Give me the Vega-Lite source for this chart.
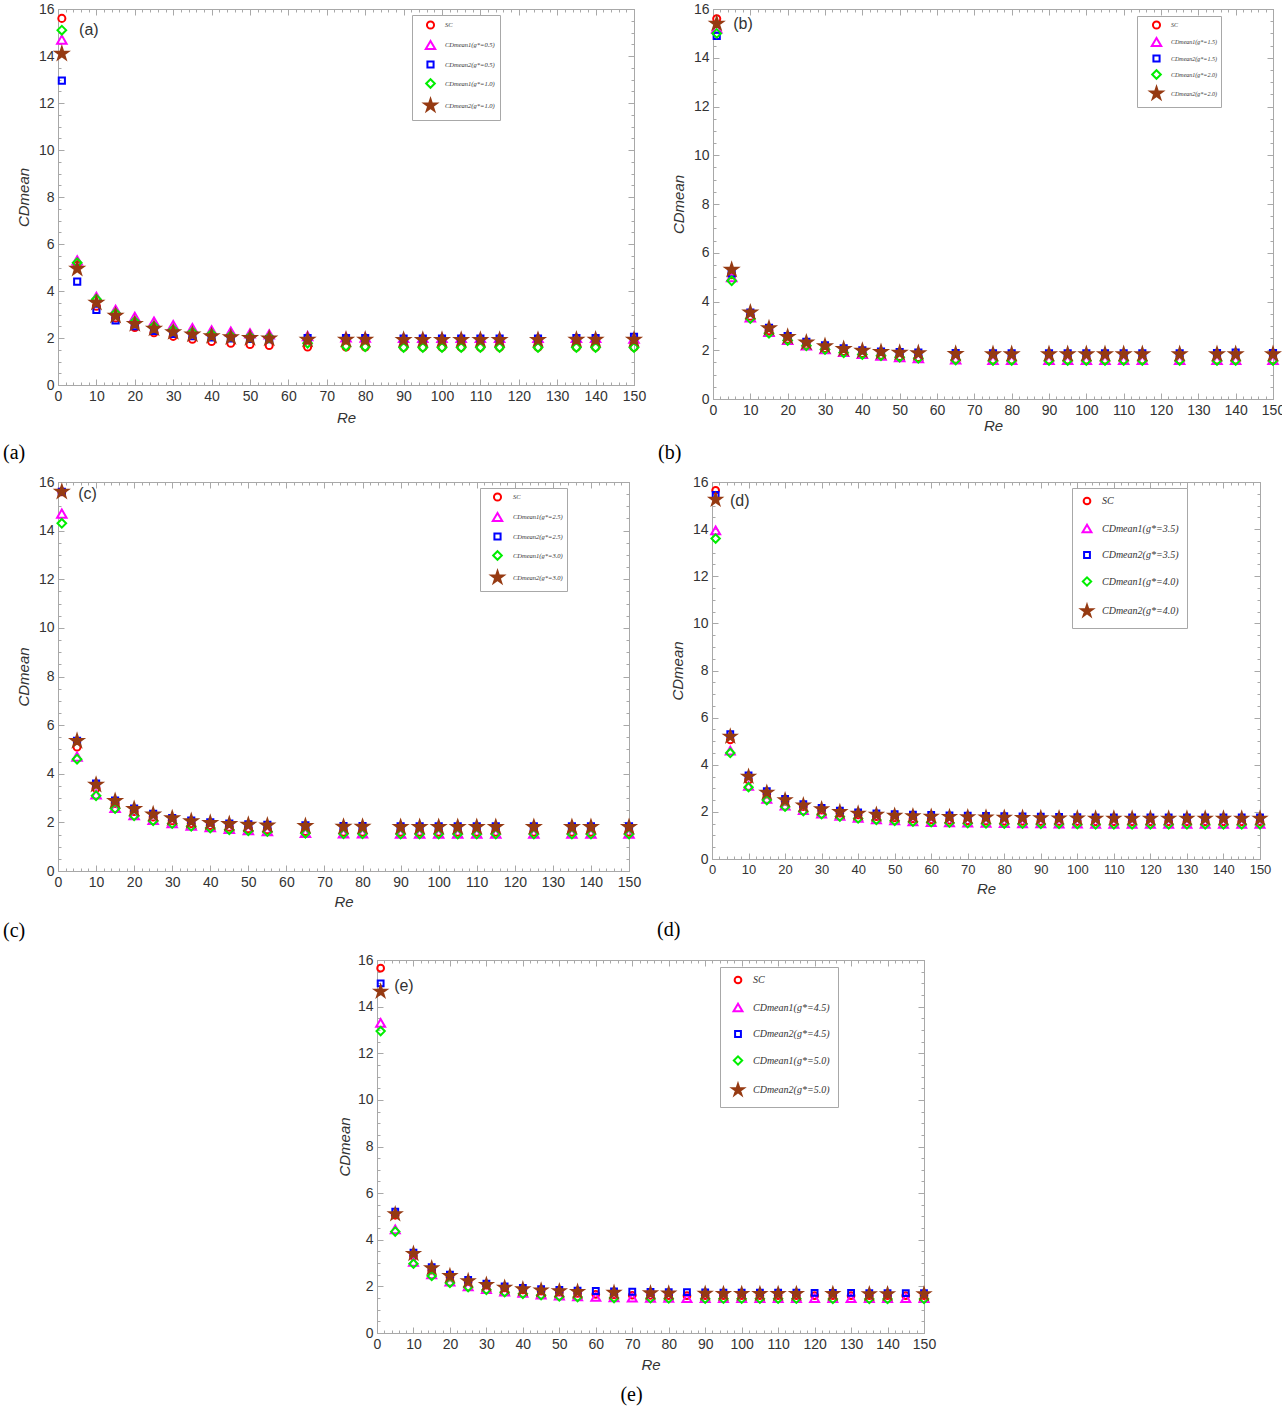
{
"$schema": "https://vega.github.io/schema/vega-lite/v6.json",
"background": "white",
"padding": {"left": 2, "top": 1, "right": 0, "bottom": 0},
"config": {
 "view": {"stroke": "#a8a8a8"},
 "axis": {"grid": false, "domainColor": "#a8a8a8", "tickColor": "#a8a8a8", "tickWidth": 1, "labelFont": "Liberation Sans", "labelFontSize": 14, "labelColor": "#333333", "titleFont": "Liberation Sans", "titleFontSize": 15, "titleFontStyle": "italic", "titleFontWeight": "normal", "titleColor": "#333333", "labelOverlap": false, "labelFlush": false},
 "legend": {"labelFont": "Liberation Serif", "labelFontStyle": "italic", "labelColor": "#333333", "strokeColor": "#a8a8a8", "fillColor": "#ffffff", "symbolStrokeWidth": 2, "orient": "none"},
 "title": {"font": "Liberation Serif", "fontSize": 20, "fontWeight": "normal", "color": "#000000"}
},
"spacing": 10,
"align": "each",
"resolve": {"scale": {"x": "independent", "y": "independent", "stroke": "independent", "fill": "independent", "shape": "independent", "size": "independent"}, "legend": {"stroke": "independent", "fill": "independent", "shape": "independent", "size": "independent"}},
"vconcat": [
{
 "hconcat": [
 {
  "width": 576, "height": 376,
  "title": {"text": "(a)", "orient": "bottom", "anchor": "start", "frame": "group", "dx": -55, "offset": 18},
  "data": {"values": [
   {"Re":1,"s":"SC","C":15.6},{"Re":5,"s":"SC","C":5.1},{"Re":10,"s":"SC","C":3.35},{"Re":15,"s":"SC","C":2.85},{"Re":20,"s":"SC","C":2.45},{"Re":25,"s":"SC","C":2.22},{"Re":30,"s":"SC","C":2.07},{"Re":35,"s":"SC","C":1.95},{"Re":40,"s":"SC","C":1.85},{"Re":45,"s":"SC","C":1.78},{"Re":50,"s":"SC","C":1.72},{"Re":55,"s":"SC","C":1.68},{"Re":65,"s":"SC","C":1.62},{"Re":75,"s":"SC","C":1.62},{"Re":80,"s":"SC","C":1.62},{"Re":90,"s":"SC","C":1.6},{"Re":95,"s":"SC","C":1.6},{"Re":100,"s":"SC","C":1.6},{"Re":105,"s":"SC","C":1.6},{"Re":110,"s":"SC","C":1.6},{"Re":115,"s":"SC","C":1.6},{"Re":125,"s":"SC","C":1.6},{"Re":135,"s":"SC","C":1.6},{"Re":140,"s":"SC","C":1.6},{"Re":150,"s":"SC","C":1.6},
   {"Re":1,"s":"m1","C":14.7},{"Re":5,"s":"m1","C":5.3},{"Re":10,"s":"m1","C":3.75},{"Re":15,"s":"m1","C":3.2},{"Re":20,"s":"m1","C":2.9},{"Re":25,"s":"m1","C":2.7},{"Re":30,"s":"m1","C":2.55},{"Re":35,"s":"m1","C":2.42},{"Re":40,"s":"m1","C":2.32},{"Re":45,"s":"m1","C":2.27},{"Re":50,"s":"m1","C":2.2},{"Re":55,"s":"m1","C":2.15},{"Re":65,"s":"m1","C":2.08},{"Re":75,"s":"m1","C":2.03},{"Re":80,"s":"m1","C":2.02},{"Re":90,"s":"m1","C":2.0},{"Re":95,"s":"m1","C":2.0},{"Re":100,"s":"m1","C":2.0},{"Re":105,"s":"m1","C":2.0},{"Re":110,"s":"m1","C":2.0},{"Re":115,"s":"m1","C":2.0},{"Re":125,"s":"m1","C":2.0},{"Re":135,"s":"m1","C":2.0},{"Re":140,"s":"m1","C":2.0},{"Re":150,"s":"m1","C":1.97},
   {"Re":1,"s":"m2","C":12.95},{"Re":5,"s":"m2","C":4.4},{"Re":10,"s":"m2","C":3.2},{"Re":15,"s":"m2","C":2.75},{"Re":20,"s":"m2","C":2.5},{"Re":25,"s":"m2","C":2.3},{"Re":30,"s":"m2","C":2.17},{"Re":35,"s":"m2","C":2.08},{"Re":40,"s":"m2","C":2.02},{"Re":45,"s":"m2","C":1.98},{"Re":50,"s":"m2","C":1.96},{"Re":55,"s":"m2","C":1.95},{"Re":65,"s":"m2","C":2.0},{"Re":75,"s":"m2","C":2.0},{"Re":80,"s":"m2","C":2.0},{"Re":90,"s":"m2","C":1.98},{"Re":95,"s":"m2","C":1.98},{"Re":100,"s":"m2","C":1.98},{"Re":105,"s":"m2","C":1.98},{"Re":110,"s":"m2","C":1.98},{"Re":115,"s":"m2","C":1.98},{"Re":125,"s":"m2","C":1.98},{"Re":135,"s":"m2","C":2.0},{"Re":140,"s":"m2","C":2.0},{"Re":150,"s":"m2","C":2.05},
   {"Re":1,"s":"n1","C":15.1},{"Re":5,"s":"n1","C":5.2},{"Re":10,"s":"n1","C":3.65},{"Re":15,"s":"n1","C":3.05},{"Re":20,"s":"n1","C":2.7},{"Re":25,"s":"n1","C":2.5},{"Re":30,"s":"n1","C":2.35},{"Re":35,"s":"n1","C":2.25},{"Re":40,"s":"n1","C":2.17},{"Re":45,"s":"n1","C":2.1},{"Re":50,"s":"n1","C":2.05},{"Re":55,"s":"n1","C":2.02},{"Re":65,"s":"n1","C":1.78},{"Re":75,"s":"n1","C":1.65},{"Re":80,"s":"n1","C":1.63},{"Re":90,"s":"n1","C":1.6},{"Re":95,"s":"n1","C":1.6},{"Re":100,"s":"n1","C":1.6},{"Re":105,"s":"n1","C":1.6},{"Re":110,"s":"n1","C":1.6},{"Re":115,"s":"n1","C":1.6},{"Re":125,"s":"n1","C":1.6},{"Re":135,"s":"n1","C":1.6},{"Re":140,"s":"n1","C":1.6},{"Re":150,"s":"n1","C":1.6},
   {"Re":1,"s":"n2","C":14.1},{"Re":5,"s":"n2","C":4.95},{"Re":10,"s":"n2","C":3.5},{"Re":15,"s":"n2","C":2.95},{"Re":20,"s":"n2","C":2.6},{"Re":25,"s":"n2","C":2.4},{"Re":30,"s":"n2","C":2.25},{"Re":35,"s":"n2","C":2.15},{"Re":40,"s":"n2","C":2.08},{"Re":45,"s":"n2","C":2.03},{"Re":50,"s":"n2","C":2.0},{"Re":55,"s":"n2","C":1.98},{"Re":65,"s":"n2","C":1.93},{"Re":75,"s":"n2","C":1.93},{"Re":80,"s":"n2","C":1.93},{"Re":90,"s":"n2","C":1.92},{"Re":95,"s":"n2","C":1.92},{"Re":100,"s":"n2","C":1.92},{"Re":105,"s":"n2","C":1.92},{"Re":110,"s":"n2","C":1.92},{"Re":115,"s":"n2","C":1.92},{"Re":125,"s":"n2","C":1.92},{"Re":135,"s":"n2","C":1.93},{"Re":140,"s":"n2","C":1.93},{"Re":150,"s":"n2","C":1.93}
  ]},
  "layer": [
   {"mark": {"type": "point", "opacity": 0},
    "encoding": {
     "x": {"field": "Re", "type": "quantitative", "scale": {"domain": [0, 150], "nice": false}, "axis": {"orient": "bottom", "tickCount": 75, "labels": false, "domain": false, "tickSize": -3, "title": null}},
     "y": {"field": "C", "type": "quantitative", "scale": {"domain": [0, 16], "nice": false}, "axis": {"orient": "left", "tickCount": 32, "labels": false, "domain": false, "tickSize": -3, "title": null}}}},
   {"mark": {"type": "point", "opacity": 0},
    "encoding": {
     "x": {"field": "Re", "type": "quantitative", "scale": {"domain": [0, 150], "nice": false}, "axis": {"orient": "top", "tickCount": 75, "labels": false, "domain": false, "tickSize": -3, "title": null}},
     "y": {"field": "C", "type": "quantitative", "scale": {"domain": [0, 16], "nice": false}, "axis": {"orient": "right", "tickCount": 32, "labels": false, "domain": false, "tickSize": -3, "title": null}}}},
   {"data": {"values": [{"t": "(a)"}]},
    "mark": {"type": "text", "align": "left", "baseline": "middle", "font": "Liberation Sans", "fontSize": 16, "color": "#333333"},
    "encoding": {
     "x": {"datum": 5.5, "type": "quantitative", "scale": {"domain": [0, 150], "nice": false}, "axis": {"orient": "top", "values": [0,10,20,30,40,50,60,70,80,90,100,110,120,130,140,150], "labels": false, "tickSize": -6, "title": null}},
     "y": {"datum": 15.1, "type": "quantitative", "scale": {"domain": [0, 16], "nice": false}, "axis": {"orient": "right", "values": [0,2,4,6,8,10,12,14,16], "labels": false, "tickSize": -6, "title": null}},
     "text": {"field": "t", "type": "nominal"}}},
   {"mark": {"type": "point", "strokeWidth": 2, "opacity": 1},
    "encoding": {
     "x": {"field": "Re", "type": "quantitative", "scale": {"domain": [0, 150], "nice": false}, "axis": {"orient": "bottom", "values": [0,10,20,30,40,50,60,70,80,90,100,110,120,130,140,150], "tickSize": -6, "labelPadding": 10, "title": "Re", "titlePadding": 7}},
     "y": {"field": "C", "type": "quantitative", "scale": {"domain": [0, 16], "nice": false}, "axis": {"orient": "left", "values": [0,2,4,6,8,10,12,14,16], "tickSize": -6, "labelPadding": 10, "title": "CDmean", "titlePadding": 7}},
     "stroke": {"field": "s", "type": "nominal", "title": null, "scale": {"domain": ["SC","m1","m2","n1","n2"], "range": ["#ff0000","#ff00ff","#0000ff","#00ee00","#963a12"]},
      "legend": {"legendX": 354, "legendY": 6, "labelFontSize": 6.5, "rowPadding": 3, "padding": 5, "symbolOffset": 6, "labelOffset": 7,
       "labelExpr": "datum.label=='SC'?'SC':datum.label=='m1'?'CDmean1(g*=0.5)':datum.label=='m2'?'CDmean2(g*=0.5)':datum.label=='n1'?'CDmean1(g*=1.0)':'CDmean2(g*=1.0)'"}},
     "fill": {"field": "s", "type": "nominal", "title": null, "scale": {"domain": ["SC","m1","m2","n1","n2"], "range": ["transparent","transparent","transparent","transparent","#963a12"]}},
     "shape": {"field": "s", "type": "nominal", "title": null, "scale": {"domain": ["SC","m1","m2","n1","n2"], "range": ["circle","triangle-up","square","diamond","M0,-1L0.2245,-0.309L0.951,-0.309L0.363,0.118L0.588,0.809L0,0.382L-0.588,0.809L-0.363,0.118L-0.951,-0.309L-0.2245,-0.309Z"]}},
     "size": {"field": "s", "type": "nominal", "title": null, "scale": {"type": "ordinal", "domain": ["SC","m1","m2","n1","n2"], "range": [50, 90, 38, 75, 160]}}}}
  ],
  "resolve": {"axis": {"x": "independent", "y": "independent"}}
 },
 {
  "width": 560, "height": 390,
  "title": {"text": "(b)", "orient": "bottom", "anchor": "start", "frame": "group", "dx": -55, "offset": 10},
  "data": {"values": [
   {"Re":1,"s":"SC","C":15.6},{"Re":5,"s":"SC","C":5.1},{"Re":10,"s":"SC","C":3.4},{"Re":15,"s":"SC","C":2.8},{"Re":20,"s":"SC","C":2.45},{"Re":25,"s":"SC","C":2.22},{"Re":30,"s":"SC","C":2.07},{"Re":35,"s":"SC","C":1.95},{"Re":40,"s":"SC","C":1.87},{"Re":45,"s":"SC","C":1.8},{"Re":50,"s":"SC","C":1.74},{"Re":55,"s":"SC","C":1.7},{"Re":65,"s":"SC","C":1.63},{"Re":75,"s":"SC","C":1.6},{"Re":80,"s":"SC","C":1.6},{"Re":90,"s":"SC","C":1.6},{"Re":95,"s":"SC","C":1.6},{"Re":100,"s":"SC","C":1.6},{"Re":105,"s":"SC","C":1.6},{"Re":110,"s":"SC","C":1.6},{"Re":115,"s":"SC","C":1.6},{"Re":125,"s":"SC","C":1.6},{"Re":135,"s":"SC","C":1.6},{"Re":140,"s":"SC","C":1.6},{"Re":150,"s":"SC","C":1.6},
   {"Re":1,"s":"m1","C":15.2},{"Re":5,"s":"m1","C":5.0},{"Re":10,"s":"m1","C":3.35},{"Re":15,"s":"m1","C":2.75},{"Re":20,"s":"m1","C":2.42},{"Re":25,"s":"m1","C":2.2},{"Re":30,"s":"m1","C":2.05},{"Re":35,"s":"m1","C":1.93},{"Re":40,"s":"m1","C":1.85},{"Re":45,"s":"m1","C":1.78},{"Re":50,"s":"m1","C":1.72},{"Re":55,"s":"m1","C":1.68},{"Re":65,"s":"m1","C":1.62},{"Re":75,"s":"m1","C":1.6},{"Re":80,"s":"m1","C":1.6},{"Re":90,"s":"m1","C":1.6},{"Re":95,"s":"m1","C":1.6},{"Re":100,"s":"m1","C":1.6},{"Re":105,"s":"m1","C":1.6},{"Re":110,"s":"m1","C":1.6},{"Re":115,"s":"m1","C":1.6},{"Re":125,"s":"m1","C":1.6},{"Re":135,"s":"m1","C":1.6},{"Re":140,"s":"m1","C":1.6},{"Re":150,"s":"m1","C":1.6},
   {"Re":1,"s":"m2","C":14.9},{"Re":5,"s":"m2","C":5.15},{"Re":10,"s":"m2","C":3.55},{"Re":15,"s":"m2","C":2.92},{"Re":20,"s":"m2","C":2.58},{"Re":25,"s":"m2","C":2.35},{"Re":30,"s":"m2","C":2.2},{"Re":35,"s":"m2","C":2.08},{"Re":40,"s":"m2","C":2.0},{"Re":45,"s":"m2","C":1.95},{"Re":50,"s":"m2","C":1.92},{"Re":55,"s":"m2","C":1.9},{"Re":65,"s":"m2","C":1.88},{"Re":75,"s":"m2","C":1.87},{"Re":80,"s":"m2","C":1.87},{"Re":90,"s":"m2","C":1.87},{"Re":95,"s":"m2","C":1.87},{"Re":100,"s":"m2","C":1.87},{"Re":105,"s":"m2","C":1.87},{"Re":110,"s":"m2","C":1.87},{"Re":115,"s":"m2","C":1.87},{"Re":125,"s":"m2","C":1.87},{"Re":135,"s":"m2","C":1.88},{"Re":140,"s":"m2","C":1.9},{"Re":150,"s":"m2","C":1.88},
   {"Re":1,"s":"n1","C":15.0},{"Re":5,"s":"n1","C":4.85},{"Re":10,"s":"n1","C":3.3},{"Re":15,"s":"n1","C":2.7},{"Re":20,"s":"n1","C":2.4},{"Re":25,"s":"n1","C":2.18},{"Re":30,"s":"n1","C":2.03},{"Re":35,"s":"n1","C":1.9},{"Re":40,"s":"n1","C":1.83},{"Re":45,"s":"n1","C":1.77},{"Re":50,"s":"n1","C":1.71},{"Re":55,"s":"n1","C":1.67},{"Re":65,"s":"n1","C":1.6},{"Re":75,"s":"n1","C":1.58},{"Re":80,"s":"n1","C":1.58},{"Re":90,"s":"n1","C":1.58},{"Re":95,"s":"n1","C":1.58},{"Re":100,"s":"n1","C":1.58},{"Re":105,"s":"n1","C":1.58},{"Re":110,"s":"n1","C":1.58},{"Re":115,"s":"n1","C":1.58},{"Re":125,"s":"n1","C":1.58},{"Re":135,"s":"n1","C":1.58},{"Re":140,"s":"n1","C":1.58},{"Re":150,"s":"n1","C":1.58},
   {"Re":1,"s":"n2","C":15.4},{"Re":5,"s":"n2","C":5.3},{"Re":10,"s":"n2","C":3.55},{"Re":15,"s":"n2","C":2.9},{"Re":20,"s":"n2","C":2.55},{"Re":25,"s":"n2","C":2.32},{"Re":30,"s":"n2","C":2.17},{"Re":35,"s":"n2","C":2.05},{"Re":40,"s":"n2","C":1.98},{"Re":45,"s":"n2","C":1.93},{"Re":50,"s":"n2","C":1.9},{"Re":55,"s":"n2","C":1.88},{"Re":65,"s":"n2","C":1.85},{"Re":75,"s":"n2","C":1.84},{"Re":80,"s":"n2","C":1.84},{"Re":90,"s":"n2","C":1.84},{"Re":95,"s":"n2","C":1.84},{"Re":100,"s":"n2","C":1.84},{"Re":105,"s":"n2","C":1.84},{"Re":110,"s":"n2","C":1.84},{"Re":115,"s":"n2","C":1.84},{"Re":125,"s":"n2","C":1.84},{"Re":135,"s":"n2","C":1.84},{"Re":140,"s":"n2","C":1.84},{"Re":150,"s":"n2","C":1.84}
  ]},
  "layer": [
   {"mark": {"type": "point", "opacity": 0},
    "encoding": {
     "x": {"field": "Re", "type": "quantitative", "scale": {"domain": [0, 150], "nice": false}, "axis": {"orient": "bottom", "tickCount": 75, "labels": false, "domain": false, "tickSize": -3, "title": null}},
     "y": {"field": "C", "type": "quantitative", "scale": {"domain": [0, 16], "nice": false}, "axis": {"orient": "left", "tickCount": 32, "labels": false, "domain": false, "tickSize": -3, "title": null}}}},
   {"mark": {"type": "point", "opacity": 0},
    "encoding": {
     "x": {"field": "Re", "type": "quantitative", "scale": {"domain": [0, 150], "nice": false}, "axis": {"orient": "top", "tickCount": 75, "labels": false, "domain": false, "tickSize": -3, "title": null}},
     "y": {"field": "C", "type": "quantitative", "scale": {"domain": [0, 16], "nice": false}, "axis": {"orient": "right", "tickCount": 32, "labels": false, "domain": false, "tickSize": -3, "title": null}}}},
   {"data": {"values": [{"t": "(b)"}]},
    "mark": {"type": "text", "align": "left", "baseline": "middle", "font": "Liberation Sans", "fontSize": 16, "color": "#333333"},
    "encoding": {
     "x": {"datum": 5.4, "type": "quantitative", "scale": {"domain": [0, 150], "nice": false}, "axis": {"orient": "top", "values": [0,10,20,30,40,50,60,70,80,90,100,110,120,130,140,150], "labels": false, "tickSize": -6, "title": null}},
     "y": {"datum": 15.4, "type": "quantitative", "scale": {"domain": [0, 16], "nice": false}, "axis": {"orient": "right", "values": [0,2,4,6,8,10,12,14,16], "labels": false, "tickSize": -6, "title": null}},
     "text": {"field": "t", "type": "nominal"}}},
   {"mark": {"type": "point", "strokeWidth": 2, "opacity": 1},
    "encoding": {
     "x": {"field": "Re", "type": "quantitative", "scale": {"domain": [0, 150], "nice": false}, "axis": {"orient": "bottom", "values": [0,10,20,30,40,50,60,70,80,90,100,110,120,130,140,150], "tickSize": -6, "labelPadding": 10, "title": "Re", "titlePadding": 1}},
     "y": {"field": "C", "type": "quantitative", "scale": {"domain": [0, 16], "nice": false}, "axis": {"orient": "left", "values": [0,2,4,6,8,10,12,14,16], "tickSize": -6, "labelPadding": 10, "title": "CDmean", "titlePadding": 7}},
     "stroke": {"field": "s", "type": "nominal", "title": null, "scale": {"domain": ["SC","m1","m2","n1","n2"], "range": ["#ff0000","#ff00ff","#0000ff","#00ee00","#963a12"]},
      "legend": {"legendX": 424, "legendY": 7, "labelFontSize": 6, "rowPadding": 0, "padding": 4, "symbolOffset": 8, "labelOffset": 7,
       "labelExpr": "datum.label=='SC'?'SC':datum.label=='m1'?'CDmean1(g*=1.5)':datum.label=='m2'?'CDmean2(g*=1.5)':datum.label=='n1'?'CDmean1(g*=2.0)':'CDmean2(g*=2.0)'"}},
     "fill": {"field": "s", "type": "nominal", "title": null, "scale": {"domain": ["SC","m1","m2","n1","n2"], "range": ["transparent","transparent","transparent","transparent","#963a12"]}},
     "shape": {"field": "s", "type": "nominal", "title": null, "scale": {"domain": ["SC","m1","m2","n1","n2"], "range": ["circle","triangle-up","square","diamond","M0,-1L0.2245,-0.309L0.951,-0.309L0.363,0.118L0.588,0.809L0,0.382L-0.588,0.809L-0.363,0.118L-0.951,-0.309L-0.2245,-0.309Z"]}},
     "size": {"field": "s", "type": "nominal", "title": null, "scale": {"type": "ordinal", "domain": ["SC","m1","m2","n1","n2"], "range": [50, 90, 38, 75, 160]}}}}
  ],
  "resolve": {"axis": {"x": "independent", "y": "independent"}}
 }
 ],
 "spacing": 10, "align": "each",
 "resolve": {"scale": {"x": "independent", "y": "independent", "stroke": "independent", "fill": "independent", "shape": "independent", "size": "independent"}, "legend": {"stroke": "independent", "fill": "independent", "shape": "independent", "size": "independent"}}
},
{
 "hconcat": [
 {
  "width": 571, "height": 389,
  "title": {"text": "(c)", "orient": "bottom", "anchor": "start", "frame": "group", "dx": -55, "offset": 12},
  "data": {"values": [
   {"Re":1,"s":"SC","C":15.6},{"Re":5,"s":"SC","C":5.1},{"Re":10,"s":"SC","C":3.4},{"Re":15,"s":"SC","C":2.78},{"Re":20,"s":"SC","C":2.45},{"Re":25,"s":"SC","C":2.22},{"Re":30,"s":"SC","C":2.07},{"Re":35,"s":"SC","C":1.95},{"Re":40,"s":"SC","C":1.87},{"Re":45,"s":"SC","C":1.8},{"Re":50,"s":"SC","C":1.74},{"Re":55,"s":"SC","C":1.7},{"Re":65,"s":"SC","C":1.63},{"Re":75,"s":"SC","C":1.6},{"Re":80,"s":"SC","C":1.6},{"Re":90,"s":"SC","C":1.6},{"Re":95,"s":"SC","C":1.6},{"Re":100,"s":"SC","C":1.6},{"Re":105,"s":"SC","C":1.6},{"Re":110,"s":"SC","C":1.6},{"Re":115,"s":"SC","C":1.6},{"Re":125,"s":"SC","C":1.6},{"Re":135,"s":"SC","C":1.6},{"Re":140,"s":"SC","C":1.6},{"Re":150,"s":"SC","C":1.6},
   {"Re":1,"s":"m1","C":14.7},{"Re":5,"s":"m1","C":4.7},{"Re":10,"s":"m1","C":3.15},{"Re":15,"s":"m1","C":2.6},{"Re":20,"s":"m1","C":2.3},{"Re":25,"s":"m1","C":2.1},{"Re":30,"s":"m1","C":1.97},{"Re":35,"s":"m1","C":1.87},{"Re":40,"s":"m1","C":1.8},{"Re":45,"s":"m1","C":1.73},{"Re":50,"s":"m1","C":1.68},{"Re":55,"s":"m1","C":1.64},{"Re":65,"s":"m1","C":1.57},{"Re":75,"s":"m1","C":1.55},{"Re":80,"s":"m1","C":1.55},{"Re":90,"s":"m1","C":1.54},{"Re":95,"s":"m1","C":1.54},{"Re":100,"s":"m1","C":1.54},{"Re":105,"s":"m1","C":1.54},{"Re":110,"s":"m1","C":1.54},{"Re":115,"s":"m1","C":1.54},{"Re":125,"s":"m1","C":1.54},{"Re":135,"s":"m1","C":1.54},{"Re":140,"s":"m1","C":1.54},{"Re":150,"s":"m1","C":1.54},
   {"Re":1,"s":"m2","C":15.6},{"Re":5,"s":"m2","C":5.35},{"Re":10,"s":"m2","C":3.6},{"Re":15,"s":"m2","C":2.9},{"Re":20,"s":"m2","C":2.57},{"Re":25,"s":"m2","C":2.35},{"Re":30,"s":"m2","C":2.18},{"Re":35,"s":"m2","C":2.07},{"Re":40,"s":"m2","C":2.0},{"Re":45,"s":"m2","C":1.95},{"Re":50,"s":"m2","C":1.92},{"Re":55,"s":"m2","C":1.9},{"Re":65,"s":"m2","C":1.88},{"Re":75,"s":"m2","C":1.85},{"Re":80,"s":"m2","C":1.85},{"Re":90,"s":"m2","C":1.84},{"Re":95,"s":"m2","C":1.84},{"Re":100,"s":"m2","C":1.84},{"Re":105,"s":"m2","C":1.84},{"Re":110,"s":"m2","C":1.84},{"Re":115,"s":"m2","C":1.84},{"Re":125,"s":"m2","C":1.84},{"Re":135,"s":"m2","C":1.84},{"Re":140,"s":"m2","C":1.84},{"Re":150,"s":"m2","C":1.84},
   {"Re":1,"s":"n1","C":14.3},{"Re":5,"s":"n1","C":4.6},{"Re":10,"s":"n1","C":3.1},{"Re":15,"s":"n1","C":2.57},{"Re":20,"s":"n1","C":2.27},{"Re":25,"s":"n1","C":2.07},{"Re":30,"s":"n1","C":1.95},{"Re":35,"s":"n1","C":1.84},{"Re":40,"s":"n1","C":1.77},{"Re":45,"s":"n1","C":1.7},{"Re":50,"s":"n1","C":1.66},{"Re":55,"s":"n1","C":1.62},{"Re":65,"s":"n1","C":1.55},{"Re":75,"s":"n1","C":1.53},{"Re":80,"s":"n1","C":1.53},{"Re":90,"s":"n1","C":1.52},{"Re":95,"s":"n1","C":1.52},{"Re":100,"s":"n1","C":1.52},{"Re":105,"s":"n1","C":1.52},{"Re":110,"s":"n1","C":1.52},{"Re":115,"s":"n1","C":1.52},{"Re":125,"s":"n1","C":1.52},{"Re":135,"s":"n1","C":1.52},{"Re":140,"s":"n1","C":1.52},{"Re":150,"s":"n1","C":1.52},
   {"Re":1,"s":"n2","C":15.6},{"Re":5,"s":"n2","C":5.35},{"Re":10,"s":"n2","C":3.55},{"Re":15,"s":"n2","C":2.88},{"Re":20,"s":"n2","C":2.55},{"Re":25,"s":"n2","C":2.33},{"Re":30,"s":"n2","C":2.17},{"Re":35,"s":"n2","C":2.05},{"Re":40,"s":"n2","C":1.98},{"Re":45,"s":"n2","C":1.93},{"Re":50,"s":"n2","C":1.9},{"Re":55,"s":"n2","C":1.87},{"Re":65,"s":"n2","C":1.85},{"Re":75,"s":"n2","C":1.82},{"Re":80,"s":"n2","C":1.82},{"Re":90,"s":"n2","C":1.81},{"Re":95,"s":"n2","C":1.81},{"Re":100,"s":"n2","C":1.81},{"Re":105,"s":"n2","C":1.81},{"Re":110,"s":"n2","C":1.81},{"Re":115,"s":"n2","C":1.81},{"Re":125,"s":"n2","C":1.81},{"Re":135,"s":"n2","C":1.81},{"Re":140,"s":"n2","C":1.81},{"Re":150,"s":"n2","C":1.81}
  ]},
  "layer": [
   {"mark": {"type": "point", "opacity": 0},
    "encoding": {
     "x": {"field": "Re", "type": "quantitative", "scale": {"domain": [0, 150], "nice": false}, "axis": {"orient": "bottom", "tickCount": 75, "labels": false, "domain": false, "tickSize": -3, "title": null}},
     "y": {"field": "C", "type": "quantitative", "scale": {"domain": [0, 16], "nice": false}, "axis": {"orient": "left", "tickCount": 32, "labels": false, "domain": false, "tickSize": -3, "title": null}}}},
   {"mark": {"type": "point", "opacity": 0},
    "encoding": {
     "x": {"field": "Re", "type": "quantitative", "scale": {"domain": [0, 150], "nice": false}, "axis": {"orient": "top", "tickCount": 75, "labels": false, "domain": false, "tickSize": -3, "title": null}},
     "y": {"field": "C", "type": "quantitative", "scale": {"domain": [0, 16], "nice": false}, "axis": {"orient": "right", "tickCount": 32, "labels": false, "domain": false, "tickSize": -3, "title": null}}}},
   {"data": {"values": [{"t": "(c)"}]},
    "mark": {"type": "text", "align": "left", "baseline": "middle", "font": "Liberation Sans", "fontSize": 16, "color": "#333333"},
    "encoding": {
     "x": {"datum": 5.3, "type": "quantitative", "scale": {"domain": [0, 150], "nice": false}, "axis": {"orient": "top", "values": [0,10,20,30,40,50,60,70,80,90,100,110,120,130,140,150], "labels": false, "tickSize": -6, "title": null}},
     "y": {"datum": 15.5, "type": "quantitative", "scale": {"domain": [0, 16], "nice": false}, "axis": {"orient": "right", "values": [0,2,4,6,8,10,12,14,16], "labels": false, "tickSize": -6, "title": null}},
     "text": {"field": "t", "type": "nominal"}}},
   {"mark": {"type": "point", "strokeWidth": 2, "opacity": 1},
    "encoding": {
     "x": {"field": "Re", "type": "quantitative", "scale": {"domain": [0, 150], "nice": false}, "axis": {"orient": "bottom", "values": [0,10,20,30,40,50,60,70,80,90,100,110,120,130,140,150], "tickSize": -6, "labelPadding": 10, "title": "Re", "titlePadding": 5}},
     "y": {"field": "C", "type": "quantitative", "scale": {"domain": [0, 16], "nice": false}, "axis": {"orient": "left", "values": [0,2,4,6,8,10,12,14,16], "tickSize": -6, "labelPadding": 10, "title": "CDmean", "titlePadding": 7}},
     "stroke": {"field": "s", "type": "nominal", "title": null, "scale": {"domain": ["SC","m1","m2","n1","n2"], "range": ["#ff0000","#ff00ff","#0000ff","#00ee00","#963a12"]},
      "legend": {"legendX": 422, "legendY": 6, "labelFontSize": 6.5, "rowPadding": 3, "padding": 4, "symbolOffset": 6, "labelOffset": 8,
       "labelExpr": "datum.label=='SC'?'SC':datum.label=='m1'?'CDmean1(g*=2.5)':datum.label=='m2'?'CDmean2(g*=2.5)':datum.label=='n1'?'CDmean1(g*=3.0)':'CDmean2(g*=3.0)'"}},
     "fill": {"field": "s", "type": "nominal", "title": null, "scale": {"domain": ["SC","m1","m2","n1","n2"], "range": ["transparent","transparent","transparent","transparent","#963a12"]}},
     "shape": {"field": "s", "type": "nominal", "title": null, "scale": {"domain": ["SC","m1","m2","n1","n2"], "range": ["circle","triangle-up","square","diamond","M0,-1L0.2245,-0.309L0.951,-0.309L0.363,0.118L0.588,0.809L0,0.382L-0.588,0.809L-0.363,0.118L-0.951,-0.309L-0.2245,-0.309Z"]}},
     "size": {"field": "s", "type": "nominal", "title": null, "scale": {"type": "ordinal", "domain": ["SC","m1","m2","n1","n2"], "range": [50, 90, 38, 75, 160]}}}}
  ],
  "resolve": {"axis": {"x": "independent", "y": "independent"}}
 },
 {
  "width": 548, "height": 377,
  "title": {"text": "(d)", "orient": "bottom", "anchor": "start", "frame": "group", "dx": -55, "offset": 24},
  "data": {"values": [
   {"Re":1,"s":"SC","C":15.65},{"Re":5,"s":"SC","C":5.05},{"Re":10,"s":"SC","C":3.35},{"Re":15,"s":"SC","C":2.75},{"Re":20,"s":"SC","C":2.45},{"Re":25,"s":"SC","C":2.22},{"Re":30,"s":"SC","C":2.07},{"Re":35,"s":"SC","C":1.95},{"Re":40,"s":"SC","C":1.87},{"Re":45,"s":"SC","C":1.8},{"Re":50,"s":"SC","C":1.74},{"Re":55,"s":"SC","C":1.7},{"Re":60,"s":"SC","C":1.66},{"Re":65,"s":"SC","C":1.64},{"Re":70,"s":"SC","C":1.62},{"Re":75,"s":"SC","C":1.61},{"Re":80,"s":"SC","C":1.6},{"Re":85,"s":"SC","C":1.6},{"Re":90,"s":"SC","C":1.59},{"Re":95,"s":"SC","C":1.59},{"Re":100,"s":"SC","C":1.59},{"Re":105,"s":"SC","C":1.58},{"Re":110,"s":"SC","C":1.58},{"Re":115,"s":"SC","C":1.58},{"Re":120,"s":"SC","C":1.58},{"Re":125,"s":"SC","C":1.58},{"Re":130,"s":"SC","C":1.58},{"Re":135,"s":"SC","C":1.58},{"Re":140,"s":"SC","C":1.58},{"Re":145,"s":"SC","C":1.58},{"Re":150,"s":"SC","C":1.58},
   {"Re":1,"s":"m1","C":13.95},{"Re":5,"s":"m1","C":4.6},{"Re":10,"s":"m1","C":3.1},{"Re":15,"s":"m1","C":2.55},{"Re":20,"s":"m1","C":2.27},{"Re":25,"s":"m1","C":2.07},{"Re":30,"s":"m1","C":1.93},{"Re":35,"s":"m1","C":1.83},{"Re":40,"s":"m1","C":1.75},{"Re":45,"s":"m1","C":1.68},{"Re":50,"s":"m1","C":1.64},{"Re":55,"s":"m1","C":1.6},{"Re":60,"s":"m1","C":1.57},{"Re":65,"s":"m1","C":1.55},{"Re":70,"s":"m1","C":1.54},{"Re":75,"s":"m1","C":1.53},{"Re":80,"s":"m1","C":1.52},{"Re":85,"s":"m1","C":1.51},{"Re":90,"s":"m1","C":1.51},{"Re":95,"s":"m1","C":1.5},{"Re":100,"s":"m1","C":1.5},{"Re":105,"s":"m1","C":1.49},{"Re":110,"s":"m1","C":1.49},{"Re":115,"s":"m1","C":1.49},{"Re":120,"s":"m1","C":1.49},{"Re":125,"s":"m1","C":1.49},{"Re":130,"s":"m1","C":1.49},{"Re":135,"s":"m1","C":1.49},{"Re":140,"s":"m1","C":1.49},{"Re":145,"s":"m1","C":1.49},{"Re":150,"s":"m1","C":1.49},
   {"Re":1,"s":"m2","C":15.45},{"Re":5,"s":"m2","C":5.3},{"Re":10,"s":"m2","C":3.55},{"Re":15,"s":"m2","C":2.88},{"Re":20,"s":"m2","C":2.55},{"Re":25,"s":"m2","C":2.33},{"Re":30,"s":"m2","C":2.17},{"Re":35,"s":"m2","C":2.05},{"Re":40,"s":"m2","C":1.98},{"Re":45,"s":"m2","C":1.93},{"Re":50,"s":"m2","C":1.9},{"Re":55,"s":"m2","C":1.88},{"Re":60,"s":"m2","C":1.87},{"Re":65,"s":"m2","C":1.85},{"Re":70,"s":"m2","C":1.84},{"Re":75,"s":"m2","C":1.83},{"Re":80,"s":"m2","C":1.82},{"Re":85,"s":"m2","C":1.81},{"Re":90,"s":"m2","C":1.8},{"Re":95,"s":"m2","C":1.79},{"Re":100,"s":"m2","C":1.78},{"Re":105,"s":"m2","C":1.77},{"Re":110,"s":"m2","C":1.77},{"Re":115,"s":"m2","C":1.77},{"Re":120,"s":"m2","C":1.77},{"Re":125,"s":"m2","C":1.77},{"Re":130,"s":"m2","C":1.77},{"Re":135,"s":"m2","C":1.77},{"Re":140,"s":"m2","C":1.77},{"Re":145,"s":"m2","C":1.77},{"Re":150,"s":"m2","C":1.77},
   {"Re":1,"s":"n1","C":13.6},{"Re":5,"s":"n1","C":4.5},{"Re":10,"s":"n1","C":3.05},{"Re":15,"s":"n1","C":2.5},{"Re":20,"s":"n1","C":2.22},{"Re":25,"s":"n1","C":2.03},{"Re":30,"s":"n1","C":1.9},{"Re":35,"s":"n1","C":1.8},{"Re":40,"s":"n1","C":1.72},{"Re":45,"s":"n1","C":1.66},{"Re":50,"s":"n1","C":1.62},{"Re":55,"s":"n1","C":1.58},{"Re":60,"s":"n1","C":1.56},{"Re":65,"s":"n1","C":1.54},{"Re":70,"s":"n1","C":1.52},{"Re":75,"s":"n1","C":1.51},{"Re":80,"s":"n1","C":1.5},{"Re":85,"s":"n1","C":1.5},{"Re":90,"s":"n1","C":1.49},{"Re":95,"s":"n1","C":1.49},{"Re":100,"s":"n1","C":1.48},{"Re":105,"s":"n1","C":1.47},{"Re":110,"s":"n1","C":1.47},{"Re":115,"s":"n1","C":1.47},{"Re":120,"s":"n1","C":1.47},{"Re":125,"s":"n1","C":1.47},{"Re":130,"s":"n1","C":1.47},{"Re":135,"s":"n1","C":1.47},{"Re":140,"s":"n1","C":1.47},{"Re":145,"s":"n1","C":1.47},{"Re":150,"s":"n1","C":1.47},
   {"Re":1,"s":"n2","C":15.25},{"Re":5,"s":"n2","C":5.2},{"Re":10,"s":"n2","C":3.5},{"Re":15,"s":"n2","C":2.82},{"Re":20,"s":"n2","C":2.5},{"Re":25,"s":"n2","C":2.28},{"Re":30,"s":"n2","C":2.12},{"Re":35,"s":"n2","C":2.0},{"Re":40,"s":"n2","C":1.93},{"Re":45,"s":"n2","C":1.88},{"Re":50,"s":"n2","C":1.84},{"Re":55,"s":"n2","C":1.82},{"Re":60,"s":"n2","C":1.8},{"Re":65,"s":"n2","C":1.79},{"Re":70,"s":"n2","C":1.78},{"Re":75,"s":"n2","C":1.77},{"Re":80,"s":"n2","C":1.76},{"Re":85,"s":"n2","C":1.75},{"Re":90,"s":"n2","C":1.74},{"Re":95,"s":"n2","C":1.73},{"Re":100,"s":"n2","C":1.73},{"Re":105,"s":"n2","C":1.72},{"Re":110,"s":"n2","C":1.72},{"Re":115,"s":"n2","C":1.72},{"Re":120,"s":"n2","C":1.72},{"Re":125,"s":"n2","C":1.72},{"Re":130,"s":"n2","C":1.72},{"Re":135,"s":"n2","C":1.72},{"Re":140,"s":"n2","C":1.72},{"Re":145,"s":"n2","C":1.72},{"Re":150,"s":"n2","C":1.72}
  ]},
  "layer": [
   {"mark": {"type": "point", "opacity": 0},
    "encoding": {
     "x": {"field": "Re", "type": "quantitative", "scale": {"domain": [0, 150], "nice": false}, "axis": {"orient": "bottom", "tickCount": 75, "labels": false, "domain": false, "tickSize": -3, "title": null}},
     "y": {"field": "C", "type": "quantitative", "scale": {"domain": [0, 16], "nice": false}, "axis": {"orient": "left", "tickCount": 32, "labels": false, "domain": false, "tickSize": -3, "title": null}}}},
   {"mark": {"type": "point", "opacity": 0},
    "encoding": {
     "x": {"field": "Re", "type": "quantitative", "scale": {"domain": [0, 150], "nice": false}, "axis": {"orient": "top", "tickCount": 75, "labels": false, "domain": false, "tickSize": -3, "title": null}},
     "y": {"field": "C", "type": "quantitative", "scale": {"domain": [0, 16], "nice": false}, "axis": {"orient": "right", "tickCount": 32, "labels": false, "domain": false, "tickSize": -3, "title": null}}}},
   {"data": {"values": [{"t": "(d)"}]},
    "mark": {"type": "text", "align": "left", "baseline": "middle", "font": "Liberation Sans", "fontSize": 16, "color": "#333333"},
    "encoding": {
     "x": {"datum": 4.9, "type": "quantitative", "scale": {"domain": [0, 150], "nice": false}, "axis": {"orient": "top", "values": [0,10,20,30,40,50,60,70,80,90,100,110,120,130,140,150], "labels": false, "tickSize": -6, "title": null}},
     "y": {"datum": 15.2, "type": "quantitative", "scale": {"domain": [0, 16], "nice": false}, "axis": {"orient": "right", "values": [0,2,4,6,8,10,12,14,16], "labels": false, "tickSize": -6, "title": null}},
     "text": {"field": "t", "type": "nominal"}}},
   {"mark": {"type": "point", "strokeWidth": 2, "opacity": 1},
    "encoding": {
     "x": {"field": "Re", "type": "quantitative", "scale": {"domain": [0, 150], "nice": false}, "axis": {"orient": "bottom", "values": [0,10,20,30,40,50,60,70,80,90,100,110,120,130,140,150], "tickSize": -6, "labelPadding": 10, "labelFontSize": 13, "title": "Re", "titlePadding": 5}},
     "y": {"field": "C", "type": "quantitative", "scale": {"domain": [0, 16], "nice": false}, "axis": {"orient": "left", "values": [0,2,4,6,8,10,12,14,16], "tickSize": -6, "labelPadding": 10, "title": "CDmean", "titlePadding": 7}},
     "stroke": {"field": "s", "type": "nominal", "title": null, "scale": {"domain": ["SC","m1","m2","n1","n2"], "range": ["#ff0000","#ff00ff","#0000ff","#00ee00","#963a12"]},
      "legend": {"legendX": 360, "legendY": 6, "labelFontSize": 10, "rowPadding": 11, "padding": 8, "symbolOffset": 0, "labelOffset": 8,
       "labelExpr": "datum.label=='SC'?'SC':datum.label=='m1'?'CDmean1(g*=3.5)':datum.label=='m2'?'CDmean2(g*=3.5)':datum.label=='n1'?'CDmean1(g*=4.0)':'CDmean2(g*=4.0)'"}},
     "fill": {"field": "s", "type": "nominal", "title": null, "scale": {"domain": ["SC","m1","m2","n1","n2"], "range": ["transparent","transparent","transparent","transparent","#963a12"]}},
     "shape": {"field": "s", "type": "nominal", "title": null, "scale": {"domain": ["SC","m1","m2","n1","n2"], "range": ["circle","triangle-up","square","diamond","M0,-1L0.2245,-0.309L0.951,-0.309L0.363,0.118L0.588,0.809L0,0.382L-0.588,0.809L-0.363,0.118L-0.951,-0.309L-0.2245,-0.309Z"]}},
     "size": {"field": "s", "type": "nominal", "title": null, "scale": {"type": "ordinal", "domain": ["SC","m1","m2","n1","n2"], "range": [45, 80, 34, 70, 140]}}}}
  ],
  "resolve": {"axis": {"x": "independent", "y": "independent"}}
 }
 ],
 "spacing": 14, "align": "each",
 "resolve": {"scale": {"x": "independent", "y": "independent", "stroke": "independent", "fill": "independent", "shape": "independent", "size": "independent"}, "legend": {"stroke": "independent", "fill": "independent", "shape": "independent", "size": "independent"}}
},
{
 "hconcat": [
 {
  "width": 268, "height": 10,
  "view": {"stroke": null},
  "data": {"values": [{}]},
  "mark": {"type": "point", "opacity": 0},
  "encoding": {}
 },
 {
  "width": 547, "height": 373,
  "title": {"text": "(e)", "orient": "bottom", "anchor": "middle", "frame": "group", "dx": -19, "offset": 13},
  "data": {"values": [
   {"Re":1,"s":"SC","C":15.65},{"Re":5,"s":"SC","C":5.05},{"Re":10,"s":"SC","C":3.3},{"Re":15,"s":"SC","C":2.7},{"Re":20,"s":"SC","C":2.4},{"Re":25,"s":"SC","C":2.2},{"Re":30,"s":"SC","C":2.05},{"Re":35,"s":"SC","C":1.93},{"Re":40,"s":"SC","C":1.85},{"Re":45,"s":"SC","C":1.8},{"Re":50,"s":"SC","C":1.75},{"Re":55,"s":"SC","C":1.7},{"Re":60,"s":"SC","C":1.66},{"Re":65,"s":"SC","C":1.63},{"Re":70,"s":"SC","C":1.62},{"Re":75,"s":"SC","C":1.61},{"Re":80,"s":"SC","C":1.6},{"Re":85,"s":"SC","C":1.6},{"Re":90,"s":"SC","C":1.6},{"Re":95,"s":"SC","C":1.6},{"Re":100,"s":"SC","C":1.6},{"Re":105,"s":"SC","C":1.6},{"Re":110,"s":"SC","C":1.6},{"Re":115,"s":"SC","C":1.6},{"Re":120,"s":"SC","C":1.6},{"Re":125,"s":"SC","C":1.6},{"Re":130,"s":"SC","C":1.6},{"Re":135,"s":"SC","C":1.6},{"Re":140,"s":"SC","C":1.6},{"Re":145,"s":"SC","C":1.6},{"Re":150,"s":"SC","C":1.6},
   {"Re":1,"s":"m1","C":13.3},{"Re":5,"s":"m1","C":4.45},{"Re":10,"s":"m1","C":3.05},{"Re":15,"s":"m1","C":2.52},{"Re":20,"s":"m1","C":2.2},{"Re":25,"s":"m1","C":2.0},{"Re":30,"s":"m1","C":1.88},{"Re":35,"s":"m1","C":1.78},{"Re":40,"s":"m1","C":1.72},{"Re":45,"s":"m1","C":1.65},{"Re":50,"s":"m1","C":1.6},{"Re":55,"s":"m1","C":1.57},{"Re":60,"s":"m1","C":1.55},{"Re":65,"s":"m1","C":1.53},{"Re":70,"s":"m1","C":1.52},{"Re":75,"s":"m1","C":1.51},{"Re":80,"s":"m1","C":1.51},{"Re":85,"s":"m1","C":1.5},{"Re":90,"s":"m1","C":1.5},{"Re":95,"s":"m1","C":1.5},{"Re":100,"s":"m1","C":1.5},{"Re":105,"s":"m1","C":1.5},{"Re":110,"s":"m1","C":1.5},{"Re":115,"s":"m1","C":1.5},{"Re":120,"s":"m1","C":1.5},{"Re":125,"s":"m1","C":1.5},{"Re":130,"s":"m1","C":1.5},{"Re":135,"s":"m1","C":1.5},{"Re":140,"s":"m1","C":1.5},{"Re":145,"s":"m1","C":1.5},{"Re":150,"s":"m1","C":1.5},
   {"Re":1,"s":"m2","C":15.0},{"Re":5,"s":"m2","C":5.2},{"Re":10,"s":"m2","C":3.45},{"Re":15,"s":"m2","C":2.82},{"Re":20,"s":"m2","C":2.5},{"Re":25,"s":"m2","C":2.28},{"Re":30,"s":"m2","C":2.12},{"Re":35,"s":"m2","C":2.0},{"Re":40,"s":"m2","C":1.93},{"Re":45,"s":"m2","C":1.88},{"Re":50,"s":"m2","C":1.85},{"Re":55,"s":"m2","C":1.82},{"Re":60,"s":"m2","C":1.8},{"Re":65,"s":"m2","C":1.78},{"Re":70,"s":"m2","C":1.77},{"Re":75,"s":"m2","C":1.76},{"Re":80,"s":"m2","C":1.75},{"Re":85,"s":"m2","C":1.75},{"Re":90,"s":"m2","C":1.74},{"Re":95,"s":"m2","C":1.73},{"Re":100,"s":"m2","C":1.73},{"Re":105,"s":"m2","C":1.73},{"Re":110,"s":"m2","C":1.73},{"Re":115,"s":"m2","C":1.73},{"Re":120,"s":"m2","C":1.72},{"Re":125,"s":"m2","C":1.72},{"Re":130,"s":"m2","C":1.72},{"Re":135,"s":"m2","C":1.71},{"Re":140,"s":"m2","C":1.71},{"Re":145,"s":"m2","C":1.71},{"Re":150,"s":"m2","C":1.71},
   {"Re":1,"s":"n1","C":12.95},{"Re":5,"s":"n1","C":4.35},{"Re":10,"s":"n1","C":2.97},{"Re":15,"s":"n1","C":2.45},{"Re":20,"s":"n1","C":2.15},{"Re":25,"s":"n1","C":1.97},{"Re":30,"s":"n1","C":1.85},{"Re":35,"s":"n1","C":1.75},{"Re":40,"s":"n1","C":1.68},{"Re":45,"s":"n1","C":1.62},{"Re":50,"s":"n1","C":1.57},{"Re":55,"s":"n1","C":1.54},{"Re":65,"s":"n1","C":1.5},{"Re":75,"s":"n1","C":1.49},{"Re":80,"s":"n1","C":1.48},{"Re":90,"s":"n1","C":1.47},{"Re":95,"s":"n1","C":1.47},{"Re":100,"s":"n1","C":1.47},{"Re":105,"s":"n1","C":1.47},{"Re":110,"s":"n1","C":1.47},{"Re":115,"s":"n1","C":1.47},{"Re":125,"s":"n1","C":1.46},{"Re":135,"s":"n1","C":1.46},{"Re":140,"s":"n1","C":1.46},{"Re":150,"s":"n1","C":1.46},
   {"Re":1,"s":"n2","C":14.65},{"Re":5,"s":"n2","C":5.1},{"Re":10,"s":"n2","C":3.4},{"Re":15,"s":"n2","C":2.78},{"Re":20,"s":"n2","C":2.45},{"Re":25,"s":"n2","C":2.23},{"Re":30,"s":"n2","C":2.07},{"Re":35,"s":"n2","C":1.95},{"Re":40,"s":"n2","C":1.88},{"Re":45,"s":"n2","C":1.83},{"Re":50,"s":"n2","C":1.8},{"Re":55,"s":"n2","C":1.77},{"Re":65,"s":"n2","C":1.73},{"Re":75,"s":"n2","C":1.71},{"Re":80,"s":"n2","C":1.7},{"Re":90,"s":"n2","C":1.69},{"Re":95,"s":"n2","C":1.68},{"Re":100,"s":"n2","C":1.68},{"Re":105,"s":"n2","C":1.68},{"Re":110,"s":"n2","C":1.68},{"Re":115,"s":"n2","C":1.68},{"Re":125,"s":"n2","C":1.68},{"Re":135,"s":"n2","C":1.67},{"Re":140,"s":"n2","C":1.67},{"Re":150,"s":"n2","C":1.67}
  ]},
  "layer": [
   {"mark": {"type": "point", "opacity": 0},
    "encoding": {
     "x": {"field": "Re", "type": "quantitative", "scale": {"domain": [0, 150], "nice": false}, "axis": {"orient": "bottom", "tickCount": 75, "labels": false, "domain": false, "tickSize": -3, "title": null}},
     "y": {"field": "C", "type": "quantitative", "scale": {"domain": [0, 16], "nice": false}, "axis": {"orient": "left", "tickCount": 32, "labels": false, "domain": false, "tickSize": -3, "title": null}}}},
   {"mark": {"type": "point", "opacity": 0},
    "encoding": {
     "x": {"field": "Re", "type": "quantitative", "scale": {"domain": [0, 150], "nice": false}, "axis": {"orient": "top", "tickCount": 75, "labels": false, "domain": false, "tickSize": -3, "title": null}},
     "y": {"field": "C", "type": "quantitative", "scale": {"domain": [0, 16], "nice": false}, "axis": {"orient": "right", "tickCount": 32, "labels": false, "domain": false, "tickSize": -3, "title": null}}}},
   {"data": {"values": [{"t": "(e)"}]},
    "mark": {"type": "text", "align": "left", "baseline": "middle", "font": "Liberation Sans", "fontSize": 16, "color": "#333333"},
    "encoding": {
     "x": {"datum": 4.7, "type": "quantitative", "scale": {"domain": [0, 150], "nice": false}, "axis": {"orient": "top", "values": [0,10,20,30,40,50,60,70,80,90,100,110,120,130,140,150], "labels": false, "tickSize": -6, "title": null}},
     "y": {"datum": 14.9, "type": "quantitative", "scale": {"domain": [0, 16], "nice": false}, "axis": {"orient": "right", "values": [0,2,4,6,8,10,12,14,16], "labels": false, "tickSize": -6, "title": null}},
     "text": {"field": "t", "type": "nominal"}}},
   {"mark": {"type": "point", "strokeWidth": 2, "opacity": 1},
    "encoding": {
     "x": {"field": "Re", "type": "quantitative", "scale": {"domain": [0, 150], "nice": false}, "axis": {"orient": "bottom", "values": [0,10,20,30,40,50,60,70,80,90,100,110,120,130,140,150], "tickSize": -6, "labelPadding": 10, "title": "Re", "titlePadding": 6}},
     "y": {"field": "C", "type": "quantitative", "scale": {"domain": [0, 16], "nice": false}, "axis": {"orient": "left", "values": [0,2,4,6,8,10,12,14,16], "tickSize": -6, "labelPadding": 10, "title": "CDmean", "titlePadding": 5}},
     "stroke": {"field": "s", "type": "nominal", "title": null, "scale": {"domain": ["SC","m1","m2","n1","n2"], "range": ["#ff0000","#ff00ff","#0000ff","#00ee00","#963a12"]},
      "legend": {"legendX": 343, "legendY": 7, "labelFontSize": 10, "rowPadding": 11, "padding": 8, "symbolOffset": 3, "labelOffset": 8,
       "labelExpr": "datum.label=='SC'?'SC':datum.label=='m1'?'CDmean1(g*=4.5)':datum.label=='m2'?'CDmean2(g*=4.5)':datum.label=='n1'?'CDmean1(g*=5.0)':'CDmean2(g*=5.0)'"}},
     "fill": {"field": "s", "type": "nominal", "title": null, "scale": {"domain": ["SC","m1","m2","n1","n2"], "range": ["transparent","transparent","transparent","transparent","#963a12"]}},
     "shape": {"field": "s", "type": "nominal", "title": null, "scale": {"domain": ["SC","m1","m2","n1","n2"], "range": ["circle","triangle-up","square","diamond","M0,-1L0.2245,-0.309L0.951,-0.309L0.363,0.118L0.588,0.809L0,0.382L-0.588,0.809L-0.363,0.118L-0.951,-0.309L-0.2245,-0.309Z"]}},
     "size": {"field": "s", "type": "nominal", "title": null, "scale": {"type": "ordinal", "domain": ["SC","m1","m2","n1","n2"], "range": [45, 80, 34, 70, 140]}}}}
  ],
  "resolve": {"axis": {"x": "independent", "y": "independent"}}
 }
 ],
 "spacing": 10, "align": "each",
 "resolve": {"scale": {"x": "independent", "y": "independent", "stroke": "independent", "fill": "independent", "shape": "independent", "size": "independent"}, "legend": {"stroke": "independent", "fill": "independent", "shape": "independent", "size": "independent"}}
}
]
}
